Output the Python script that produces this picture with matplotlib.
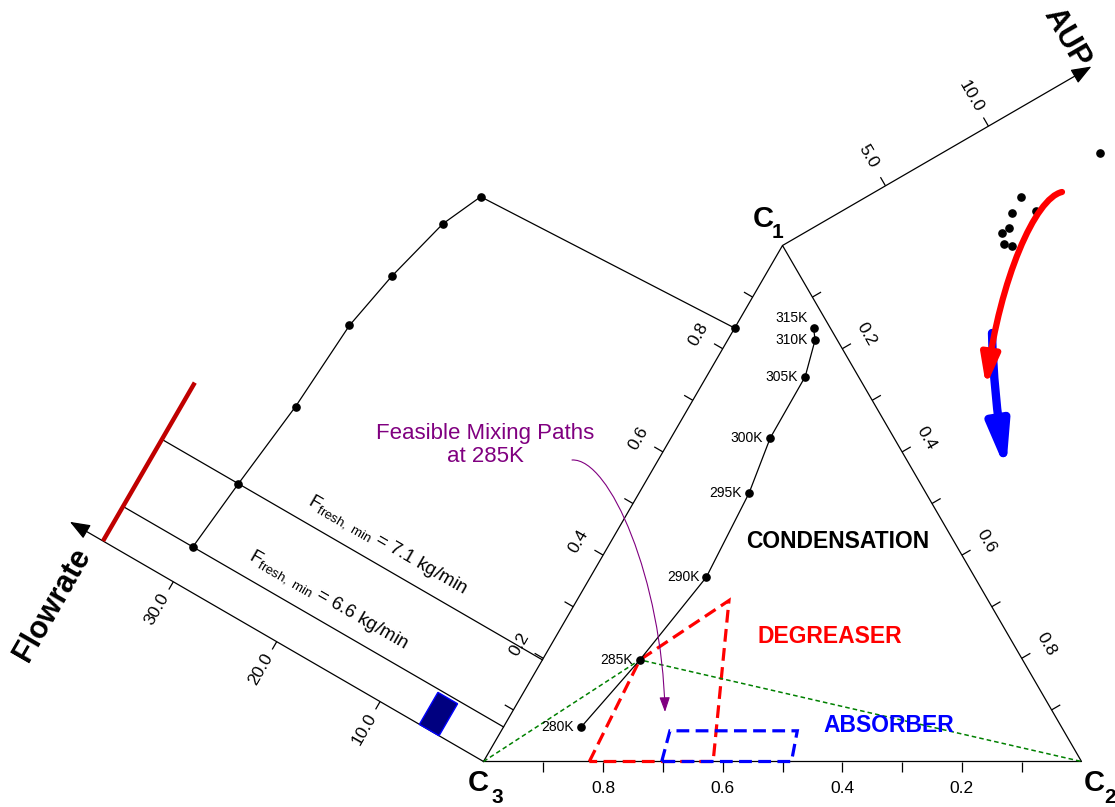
import numpy as np
import matplotlib
matplotlib.use("Agg")
import matplotlib.pyplot as plt
from matplotlib.transforms import Affine2D
from matplotlib.patches import Polygon, FancyArrowPatch, ArrowStyle
from matplotlib.path import Path

plt.rcParams['font.family'] = ['Liberation Sans', 'DejaVu Sans']
plt.rcParams['mathtext.fontset'] = 'custom'
plt.rcParams['mathtext.rm'] = 'Liberation Sans'
plt.rcParams['mathtext.it'] = 'Liberation Sans:italic'
plt.rcParams['mathtext.bf'] = 'Liberation Sans:bold'

# ---- data -------------------------------------------------------------
temps = [280, 285, 290, 295, 300, 305, 310, 315]
c1_frac = [0.067, 0.197, 0.357, 0.520, 0.627, 0.746, 0.817, 0.840]
c2_frac = [0.130, 0.163, 0.194, 0.184, 0.166, 0.165, 0.146, 0.132]
flowrate = [30.05, 29.4, 28.5, 28.0, 27.0, 25.5, 23.9, 0.0]
aup = [9.69, 9.94, 8.31, 8.07, 8.26, 8.62, 9.02, 13.5]

fresh_min_temps = [280, 285]
fresh_min_values = [6.6, 7.1]
flow_limit = 36.8
flow_limit_c1_end = 0.307
flow_box_c1 = [0.0, 0.062]
flow_box_f = [4.3, 6.2]

degreaser_c2 = [0.177, 0.163, 0.2545, 0.384]
degreaser_c1 = [0.0, 0.197, 0.312, 0.0]
absorber_c2 = [0.298, 0.282, 0.495, 0.515]
absorber_c1 = [0.0, 0.0595, 0.0595, 0.0]

tern_ticks = [0.2, 0.4, 0.6, 0.8]
flow_ticks = [10.0, 20.0, 30.0]
aup_ticks = [5.0, 10.0]
flow_axis_max = 40.0
aup_axis_max = 15.0

# ---- canvas -----------------------------------------------------------
fig = plt.figure(figsize=(11.15, 8.07), dpi=100)
ax = fig.add_axes([0, 0, 1, 1])
ax.set_xlim(0, 1115)
ax.set_ylim(807, 0)
ax.axis('off')

X0, Y0 = 483.5, 761.5          # C3 corner
SIDE_W, SIDE_H = 598.0, 516.0  # base width and height of the triangle
KF = 11.95                     # flowrate units -> canvas length
KA = 23.8                      # AUP units -> canvas length

# ternary frame: (c2, c1) -> canvas
tern_aff = Affine2D(np.array([[SIDE_W, SIDE_W / 2, X0],
                              [0.0, -SIDE_H, Y0],
                              [0, 0, 1]]))
# left frame: (c1 along C3->C1 edge, flowrate along outward normal)
v1 = np.array([SIDE_W / 2, -SIDE_H])
e1 = v1 / np.hypot(*v1)
n1 = np.array([e1[1], -e1[0]])
left_aff = Affine2D(np.array([[v1[0], KF * n1[0], X0],
                              [v1[1], KF * n1[1], Y0],
                              [0, 0, 1]]))
# right frame: (c2 along C1->C2 edge, AUP along outward normal)
C1x, C1y = X0 + SIDE_W / 2, Y0 - SIDE_H
v2 = np.array([SIDE_W / 2, SIDE_H])
e2 = v2 / np.hypot(*v2)
n2 = np.array([e2[1], -e2[0]])
right_aff = Affine2D(np.array([[v2[0], KA * n2[0], C1x],
                               [v2[1], KA * n2[1], C1y],
                               [0, 0, 1]]))
tern = tern_aff + ax.transData
left = left_aff + ax.transData
right = right_aff + ax.transData

LW = 0.9
tick_kw = dict(color='k', lw=LW, solid_capstyle='butt')
lab_kw = dict(ha='center', va='center', rotation_mode='anchor', fontsize=12.5)

# ---- triangle with ticks ---------------------------------------------
ax.plot([0, 1, 0, 0], [0, 0, 1, 0], transform=tern, color='k', lw=LW)
for t in np.arange(1, 10) / 10:
    p = tern_aff.transform((t, 0))
    ax.plot([p[0], p[0]], [p[1], p[1] + 10], **tick_kw)
    p = tern_aff.transform((0, t))
    q = p + 10 * n1
    ax.plot([p[0], q[0]], [p[1], q[1]], **tick_kw)
    p = tern_aff.transform((t, 1 - t))
    q = p + 10 * n2
    ax.plot([p[0], q[0]], [p[1], q[1]], **tick_kw)
for t in tern_ticks:
    p = tern_aff.transform((t, 0))
    ax.text(p[0], p[1] + 27, f"{1 - t:.1f}", **lab_kw)
    p = tern_aff.transform((0, t)) + 28 * n1
    ax.text(p[0], p[1], f"{t:.1f}", rotation=60, **lab_kw)
    p = tern_aff.transform((t, 1 - t)) + 28 * n2
    ax.text(p[0], p[1], f"{t:.1f}", rotation=-60, **lab_kw)

# corner labels
corner_kw = dict(textcoords='offset points', ha='center', va='center',
                 fontweight='bold')
for (cx, cy), sub, off_c, off_s in [((0, 1), '1', (-14, 19.2), (-3.5, 9.5)),
                                     ((0, 0), '3', (-4, -15.5), (10, -25.6)),
                                     ((1, 0), '2', (9, -15.5), (20.5, -25.6))]:
    p = tern_aff.transform((cx, cy))
    ax.annotate('C', p, xytext=off_c, fontsize=21, **corner_kw)
    ax.annotate(sub, p, xytext=off_s, fontsize=15, **corner_kw)

# ---- regions inside the triangle -------------------------------------
ax.add_patch(Polygon(np.column_stack([degreaser_c2, degreaser_c1]),
                     closed=True, fill=False, edgecolor='#ff0000', lw=2.3,
                     linestyle=(0, (4, 2)), transform=tern, zorder=3))
ax.add_patch(Polygon(np.column_stack([absorber_c2, absorber_c1]),
                     closed=True, fill=False, edgecolor='#0000ff', lw=2.3,
                     linestyle=(0, (4, 2)), transform=tern, zorder=3))
i285 = temps.index(285)
ax.plot([0, c2_frac[i285], 1], [0, c1_frac[i285], 0], transform=tern,
        color='#008000', lw=1.1, linestyle=(0, (3, 2)), zorder=3)

# temperature trajectory
ax.plot(c2_frac, c1_frac, '-o', transform=tern, color='k', lw=LW, ms=5.2,
        zorder=4)
for T, a2, a1 in zip(temps, c2_frac, c1_frac):
    p = tern_aff.transform((a2, a1))
    off = (-4, 7) if T == 315 else (-5, 0)
    ax.annotate(f"{T}K", p, xytext=off, textcoords='offset points',
                ha='right', va='center', fontsize=10, zorder=5)

ax.text(*tern_aff.transform((0.379, 0.4273)), 'CONDENSATION',
        fontsize=16.5, fontweight='bold', color='k', ha='center', va='center')
ax.text(*tern_aff.transform((0.458, 0.2432)), 'DEGREASER',
        fontsize=16.5, fontweight='bold', color='#ff0000', ha='center', va='center')
ax.text(*tern_aff.transform((0.644, 0.0688)), 'ABSORBER',
        fontsize=16.5, fontweight='bold', color='#0000ff', ha='center', va='center')

# ---- flowrate frame on the left ---------------------------------------
ax.add_patch(FancyArrowPatch((0, 0), (0, flow_axis_max), transform=left,
                             arrowstyle=ArrowStyle('-|>', head_length=12.5,
                                                   head_width=4.8),
                             mutation_scale=1, color='k', lw=LW,
                             shrinkA=0, shrinkB=0))
for F in flow_ticks:
    p = left_aff.transform((0, F))
    q = p - 9 * e1
    ax.plot([p[0], q[0]], [p[1], q[1]], **tick_kw)
    r = p - 32 * e1
    ax.text(r[0], r[1], f"{F:.1f}", rotation=60, **lab_kw)
p = left_aff.transform((-0.135, 37.8))
ax.text(p[0], p[1], 'Flowrate', rotation=60, fontsize=22, fontweight='bold',
        ha='center', va='center', rotation_mode='anchor')

ax.plot([0, flow_limit_c1_end], [flow_limit, flow_limit], transform=left,
        color='#c00000', lw=3.2, solid_capstyle='butt', zorder=3)
for T, val, fpos in zip(fresh_min_temps, fresh_min_values, [18.0, 16.0]):
    u = c1_frac[temps.index(T)]
    ax.plot([u, u], [0, flow_limit], transform=left, color='k', lw=LW)
    p = left_aff.transform((u + 0.03, fpos))
    ax.text(p[0], p[1], r'F$_{\rm fresh,\ min}$ = ' + f'{val} kg/min',
            rotation=-30, rotation_mode='anchor', ha='center', va='baseline',
            fontsize=13.5)
ax.add_patch(Polygon([(flow_box_c1[0], flow_box_f[0]), (flow_box_c1[1], flow_box_f[0]),
                      (flow_box_c1[1], flow_box_f[1]), (flow_box_c1[0], flow_box_f[1])],
                     closed=True, facecolor='#000080', edgecolor='#0000ff',
                     lw=1.0, transform=left, zorder=3))
ax.plot(c1_frac, flowrate, '-o', transform=left, color='k', lw=LW, ms=5.2,
        zorder=4)

# ---- AUP frame on the right ------------------------------------------
ax.add_patch(FancyArrowPatch((0, 0), (0, aup_axis_max), transform=right,
                             arrowstyle=ArrowStyle('-|>', head_length=12.5,
                                                   head_width=4.8),
                             mutation_scale=1, color='k', lw=LW,
                             shrinkA=0, shrinkB=0))
for A in aup_ticks:
    p = right_aff.transform((0, A))
    q = p - 10 * e2
    ax.plot([p[0], q[0]], [p[1], q[1]], **tick_kw)
    r = p - 34 * e2
    ax.text(r[0], r[1], f"{A:.1f}", rotation=-60, **lab_kw)
p = right_aff.transform((-0.062, 14.7))
ax.text(p[0], p[1], 'AUP', rotation=-60, fontsize=22, fontweight='bold',
        ha='center', va='center', rotation_mode='anchor')
ax.plot(c2_frac, aup, 'o', transform=right, color='k', ms=5.2, zorder=4)

# trend arrows
blue_path = Path([(992, 333), (993, 372), (997, 415), (1006, 470)],
                 [Path.MOVETO, Path.CURVE4, Path.CURVE4, Path.CURVE4])
ax.add_patch(FancyArrowPatch(path=blue_path, color='#0000ff', lw=6.0,
                             arrowstyle=ArrowStyle('-|>', head_length=26,
                                                   head_width=6.5),
                             mutation_scale=1, zorder=5))
red_path = Path([(1062, 192), (1035, 198), (1000, 280), (986, 386)],
                [Path.MOVETO, Path.CURVE4, Path.CURVE4, Path.CURVE4])
ax.add_patch(FancyArrowPatch(path=red_path, color='#ff0000', lw=4.5,
                             capstyle='round',
                             arrowstyle=ArrowStyle('-|>', head_length=18,
                                                   head_width=5.5),
                             mutation_scale=1, zorder=6))

# ---- mixing-path note -------------------------------------------------
ax.text(485, 445, 'Feasible Mixing Paths\nat 285K', color='#800080',
        fontsize=16, ha='center', va='center', linespacing=1.1)
purple_path = Path([(572, 460), (610, 458), (662, 580), (665, 712)],
                   [Path.MOVETO, Path.CURVE4, Path.CURVE4, Path.CURVE4])
ax.add_patch(FancyArrowPatch(path=purple_path, color='#800080', lw=0.8,
                             arrowstyle=ArrowStyle('-|>', head_length=9,
                                                   head_width=3.2),
                             mutation_scale=1, zorder=5))

fig.savefig('out.png', dpi=100)
